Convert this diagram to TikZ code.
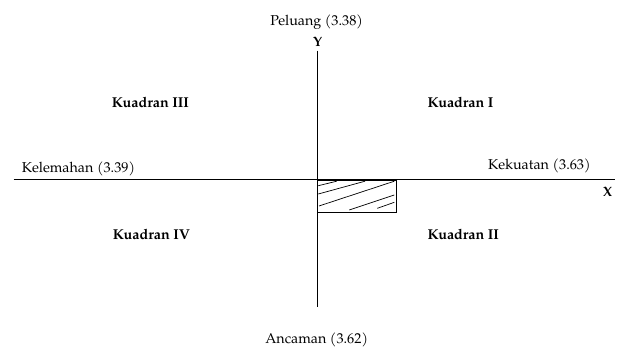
\documentclass[tikz,border=0pt]{standalone}
\usepackage{fontspec}
\setmainfont{TeX Gyre Pagella}
\begin{document}
\begin{tikzpicture}[x=1bp,y=-1bp,
  lbl/.style={inner sep=0pt,font=\fontsize{14.3bp}{17bp}\selectfont},
  quad/.style={inner sep=0pt,font=\fontsize{14.3bp}{17bp}\selectfont\bfseries},
  axlbl/.style={inner sep=0pt,font=\fontsize{13.5bp}{16bp}\selectfont\bfseries},
  axis/.style={line width=0.9bp},
  hatch/.style={line width=0.7bp}]
\useasboundingbox (0,0) rectangle (622,347);
% axes
\coordinate (ytop) at (317.3,50.5);
\coordinate (ybot) at (317.3,307);
\coordinate (xleft) at (13.5,179.3);
\coordinate (xright) at (615,179.3);
\draw[axis] (ytop) -- (ybot);
\draw[axis] (xleft) -- (xright);
% box
\coordinate (bl) at (317.3,212.3);
\coordinate (tr) at (396.7,180);
\draw[axis] (bl) rectangle (tr);
\draw[hatch] (318.3,185.7) -- (336.7,181.2);
\draw[hatch] (318.3,194) -- (365,181.2);
\draw[hatch] (319,206) -- (394.3,181.2);
\draw[hatch] (349.3,210) -- (394.3,195);
\draw[hatch] (377.3,208.3) -- (394.3,202.3);
% labels
\node[lbl,anchor=base] (pel) at (316.7,25.5) {Peluang (3.38)};
\node[axlbl,anchor=base] (ylab) at (317.5,46) {Y};
\node[lbl,anchor=base] (anc) at (316.7,343) {Ancaman (3.62)};
\node[lbl,anchor=base west] (kel) at (21.7,172.7) {Kelemahan (3.39)};
\node[lbl,anchor=base west] (kek) at (488,169.5) {Kekuatan (3.63)};
\node[axlbl,anchor=base] (xlab) at (607.5,196.8) {X};
\node[quad,anchor=base] (q3) at (150.5,107.5) {Kuadran III};
\node[quad,anchor=base west] (q1) at (427.3,107.5) {Kuadran I};
\node[quad,anchor=base] (q4) at (151.5,239.5) {Kuadran IV};
\node[quad,anchor=base west] (q2) at (427.3,239.5) {Kuadran II};
\end{tikzpicture}
\end{document}
